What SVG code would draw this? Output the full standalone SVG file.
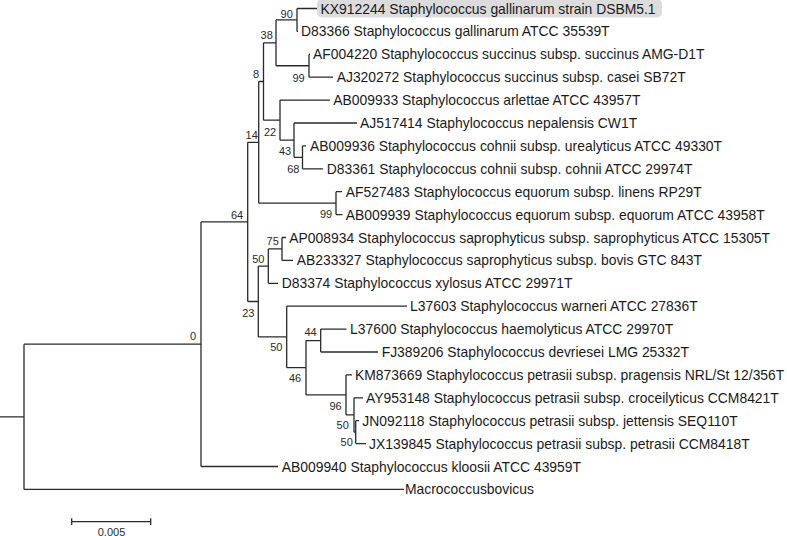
<svg xmlns="http://www.w3.org/2000/svg" width="787" height="536" viewBox="0 0 787 536">
<style>
.br{fill:none;stroke:#2a2a2a;stroke-width:1.3}
.lf{font-family:"Liberation Sans",Arial,sans-serif;font-size:13.9px;fill:#1a1a1a}
.bs{font-family:"Liberation Sans",Arial,sans-serif;font-size:11px;fill:#2a2a2a;text-anchor:middle}
</style>
<rect width="787" height="536" fill="#fff"/>
<g id="connectors" class="br">
<path d="M0,416.8H24M24,344.2V489.4M24,344.2H201M24,489.4H404"/>
<path d="M201,221.9V466.5M201,466.5H278M201,221.9H247.7"/>
<path d="M247.7,142.3V301.5M247.7,142.3H258.7M258.7,81.5V203.15M258.7,81.5H263.5M263.5,42.85V120.15"/>
<path d="M263.5,42.85H276M276,19.95V65.75M276,19.95H297M297,8.5V31.4M297,8.5H318M297,31.4H298"/>
<path d="M276,65.75H309M309,54.3V77.2M309,54.3H310M309,77.2H333"/>
<path d="M263.5,120.15H280M280,100.1V140.2M280,100.1H330M280,140.2H294M294,123V157.35M294,123H357M294,157.35H302.5M302.5,145.9V168.8M302.5,145.9H306M302.5,168.8H323"/>
<path d="M258.7,203.15H336M336,191.7V214.6M336,191.7H342M336,214.6H342.5"/>
<path d="M247.7,301.5H258.3M258.3,266.1V336.95M258.3,266.1H268.3M268.3,248.95V283.3M268.3,248.95H282M282,237.5V260.4M282,237.5H286M282,260.4H293M268.3,283.3H278"/>
<path d="M258.3,336.95H286.7M286.7,306.2V367.7M286.7,306.2H407M286.7,367.7H306M306,340.55V394.9M306,340.55H320.7M320.7,329.1V352M320.7,329.1H346.5M320.7,352H378"/>
<path d="M306,394.9H346M346,374.9V414.95M346,374.9H352M346,414.95H354M354,397.8V432.15M354,397.8H363M354,432.15H355.7M355.7,420.7V443.6M355.7,420.7H359M355.7,443.6H366"/>
</g>
<g id="leaf-KX912244"><rect x="317" y="-1" width="345" height="18.5" rx="5" fill="#dcdcdc"/><text class="lf" x="320.5" y="13.5">KX912244 Staphylococcus gallinarum strain DSBM5.1</text></g>
<g id="leaf-D83366"><text class="lf" x="301" y="36.4">D83366 Staphylococcus gallinarum ATCC 35539T</text></g>
<g id="leaf-AF004220"><text class="lf" x="313" y="59.3">AF004220 Staphylococcus succinus subsp. succinus AMG-D1T</text></g>
<g id="leaf-AJ320272"><text class="lf" x="336.7" y="82.2">AJ320272 Staphylococcus succinus subsp. casei SB72T</text></g>
<g id="leaf-AB009933"><text class="lf" x="333.3" y="105.1">AB009933 Staphylococcus arlettae ATCC 43957T</text></g>
<g id="leaf-AJ517414"><text class="lf" x="360" y="128">AJ517414 Staphylococcus nepalensis CW1T</text></g>
<g id="leaf-AB009936"><text class="lf" x="310" y="150.9">AB009936 Staphylococcus cohnii subsp. urealyticus ATCC 49330T</text></g>
<g id="leaf-D83361"><text class="lf" x="326.7" y="173.8">D83361 Staphylococcus cohnii subsp. cohnii ATCC 29974T</text></g>
<g id="leaf-AF527483"><text class="lf" x="345.7" y="196.7">AF527483 Staphylococcus equorum subsp. linens RP29T</text></g>
<g id="leaf-AB009939"><text class="lf" x="345.7" y="219.6">AB009939 Staphylococcus equorum subsp. equorum ATCC 43958T</text></g>
<g id="leaf-AP008934"><text class="lf" x="289.3" y="242.5">AP008934 Staphylococcus saprophyticus subsp. saprophyticus ATCC 15305T</text></g>
<g id="leaf-AB233327"><text class="lf" x="296.7" y="265.4">AB233327 Staphylococcus saprophyticus subsp. bovis GTC 843T</text></g>
<g id="leaf-D83374"><text class="lf" x="281.7" y="288.3">D83374 Staphylococcus xylosus ATCC 29971T</text></g>
<g id="leaf-L37603"><text class="lf" x="410" y="311.2">L37603 Staphylococcus warneri ATCC 27836T</text></g>
<g id="leaf-L37600"><text class="lf" x="350" y="334.1">L37600 Staphylococcus haemolyticus ATCC 29970T</text></g>
<g id="leaf-FJ389206"><text class="lf" x="381.7" y="357">FJ389206 Staphylococcus devriesei LMG 25332T</text></g>
<g id="leaf-KM873669"><text class="lf" x="355" y="379.9">KM873669 Staphylococcus petrasii subsp. pragensis NRL/St 12/356T</text></g>
<g id="leaf-AY953148"><text class="lf" x="366" y="402.8">AY953148 Staphylococcus petrasii subsp. croceilyticus CCM8421T</text></g>
<g id="leaf-JN092118"><text class="lf" x="362.3" y="425.7">JN092118 Staphylococcus petrasii subsp. jettensis SEQ110T</text></g>
<g id="leaf-JX139845"><text class="lf" x="369" y="448.6">JX139845 Staphylococcus petrasii subsp. petrasii CCM8418T</text></g>
<g id="leaf-AB009940"><text class="lf" x="281.7" y="471.5">AB009940 Staphylococcus kloosii ATCC 43959T</text></g>
<g id="leaf-Macrococcus"><text class="lf" x="405" y="494.4">Macrococcusbovicus</text></g>
<g id="node-90"><text class="bs" x="286.7" y="18">90</text></g>
<g id="node-38"><text class="bs" x="266.7" y="39">38</text></g>
<g id="node-99a"><text class="bs" x="298.5" y="82">99</text></g>
<g id="node-8"><text class="bs" x="256" y="78">8</text></g>
<g id="node-22"><text class="bs" x="270" y="135.7">22</text></g>
<g id="node-43"><text class="bs" x="285" y="155">43</text></g>
<g id="node-68"><text class="bs" x="293.3" y="173">68</text></g>
<g id="node-14"><text class="bs" x="251.7" y="139">14</text></g>
<g id="node-99b"><text class="bs" x="326" y="218.2">99</text></g>
<g id="node-64"><text class="bs" x="237" y="219">64</text></g>
<g id="node-75"><text class="bs" x="272.7" y="245">75</text></g>
<g id="node-50a"><text class="bs" x="258.3" y="262.7">50</text></g>
<g id="node-23"><text class="bs" x="248.3" y="316.7">23</text></g>
<g id="node-50b"><text class="bs" x="276.3" y="351.2">50</text></g>
<g id="node-44"><text class="bs" x="310.5" y="336.2">44</text></g>
<g id="node-46"><text class="bs" x="295" y="382.2">46</text></g>
<g id="node-96"><text class="bs" x="335.5" y="409.7">96</text></g>
<g id="node-50c"><text class="bs" x="342.7" y="429">50</text></g>
<g id="node-50d"><text class="bs" x="346.7" y="445.7">50</text></g>
<g id="node-0"><text class="bs" x="193" y="340.2">0</text></g>
<g id="scale-bar">
<path class="br" d="M71.7,521.7H150.7M71.7,518.3V525M150.7,518.3V525"/>
<text class="bs" x="111.5" y="535.5">0.005</text>
</g>
</svg>
